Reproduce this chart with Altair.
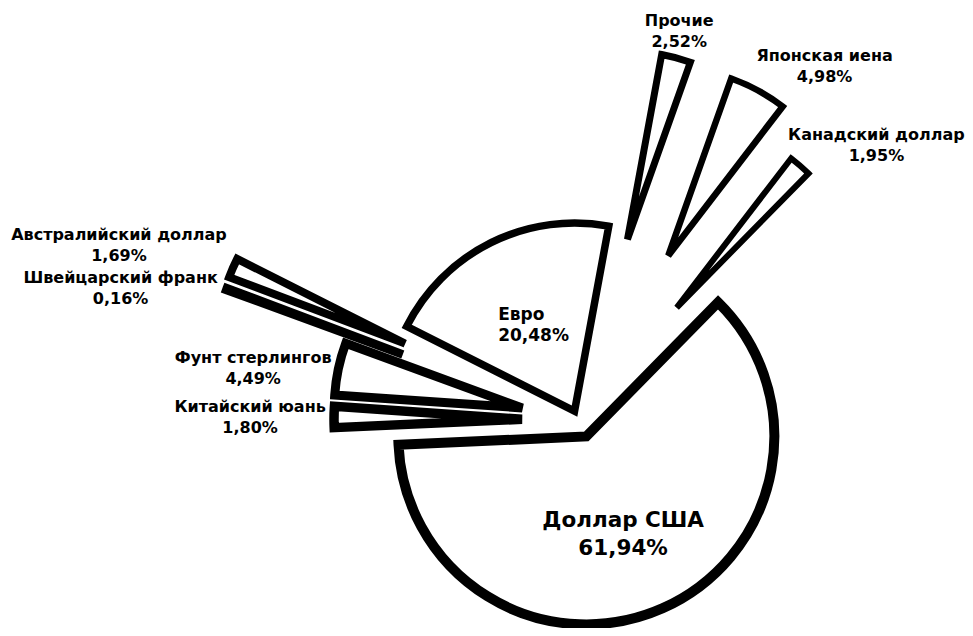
import math
import altair as alt
import pandas as pd

# ---- data ----
currencies = ["Доллар США", "Китайский юань", "Фунт стерлингов", "Швейцарский франк",
              "Австралийский доллар", "Евро", "Прочие", "Японская иена", "Канадский доллар"]
shares = [61.94, 1.80, 4.49, 0.16, 1.69, 20.48, 2.52, 4.98, 1.95]

# ---- styling (explode distance in px, outline width, label placement / nudges) ----
explode_px = [18, 57, 58, 188, 190, 10, 187, 187, 149]
stroke_px = [10, 6, 6, 6, 6, 5, 7, 7.5, 7]
label_kind = ["usd", "out", "out", "out", "out", "eur", "out", "out", "out"]
nudge_x = [0, -4, 0, -10, -2, 0, 3, -8, 0]
nudge_y = [0, 0, 0, 0, 0, 0, -4, -2, 2]

R = 188
START_DEG = 44.5
CX, CY = 571, 412
W, H = 957, 620
CHAR_W = 10.7
HALF_H = 20
GAP_X = 5
GAP_Y = 2

df = pd.DataFrame({
    "currency": currencies,
    "share": shares,
    "order": list(range(len(currencies))),
    "explode": explode_px,
    "kind": label_kind,
    "nx": nudge_x,
    "ny": nudge_y,
})

t0 = math.radians(START_DEG)

base = alt.Chart(df).transform_window(
    cum="sum(share)", frame=[None, 0], sort=[alt.SortField("order")]
).transform_joinaggregate(
    total="sum(share)"
).transform_calculate(
    t1=f"{t0} + 2*PI*(datum.cum - datum.share)/datum.total",
    t2=f"{t0} + 2*PI*datum.cum/datum.total",
    mid="(datum.t1 + datum.t2)/2",
    ux="sin(datum.mid)",
    uy="-cos(datum.mid)",
    cx=f"{CX} + datum.explode*datum.ux",
    cy=f"{CY} + datum.explode*datum.uy",
    pct="replace(format(datum.share, '.2f'), '.', ',') + '%'",
    halfw=f"max(length(datum.currency), length(datum.pct))*{CHAR_W}/2",
    sx="datum.ux > 0.383 ? 1 : (datum.ux < -0.383 ? -1 : 0)",
    sy="datum.uy > 0.383 ? 1 : (datum.uy < -0.383 ? -1 : 0)",
    px0=f"datum.cx + {R}*datum.ux + datum.sx*(datum.halfw + {GAP_X}) + datum.nx",
    px=f"min(datum.px0, {W} - 3 - datum.halfw)",
    py=f"datum.cy + {R}*datum.uy + datum.sy*({HALF_H} + {GAP_Y}) + datum.ny",
    ix=f"datum.cx + {0.52 * R}*datum.ux",
    iy=f"datum.cy + {0.52 * R}*datum.uy",
)

arcs = base.mark_arc(radius=R, fill="white", stroke="black", strokeJoin="miter", clip=True).encode(
    x=alt.X("cx:Q", scale=None),
    y=alt.Y("cy:Q", scale=None),
    theta=alt.Theta("t1:Q", scale=None, stack=False),
    theta2="t2:Q",
    strokeWidth=alt.StrokeWidth("currency:N",
                                scale=alt.Scale(domain=currencies, range=stroke_px),
                                legend=None),
)

txt_common = dict(font="DejaVu Sans", fontWeight="bold", color="black",
                  baseline="middle", clip=True)

out = base.transform_filter("datum.kind == 'out'")
out_name = out.mark_text(fontSize=16, align="center", dy=-10.5, **txt_common).encode(
    x=alt.X("px:Q", scale=None), y=alt.Y("py:Q", scale=None), text="currency:N")
out_pct = out.mark_text(fontSize=16, align="center", dy=10.5, **txt_common).encode(
    x=alt.X("px:Q", scale=None), y=alt.Y("py:Q", scale=None), text="pct:N")

usd = base.transform_filter("datum.kind == 'usd'")
usd_name = usd.mark_text(fontSize=21.5, align="center", dx=-3, dy=-5, **txt_common).encode(
    x=alt.X("ix:Q", scale=None), y=alt.Y("iy:Q", scale=None), text="currency:N")
usd_pct = usd.mark_text(fontSize=21.5, align="center", dx=-3, dy=23, **txt_common).encode(
    x=alt.X("ix:Q", scale=None), y=alt.Y("iy:Q", scale=None), text="pct:N")

eur = base.transform_filter("datum.kind == 'eur'")
eur_name = eur.mark_text(fontSize=17, align="left", dx=-33, dy=-8.5, **txt_common).encode(
    x=alt.X("ix:Q", scale=None), y=alt.Y("iy:Q", scale=None), text="currency:N")
eur_pct = eur.mark_text(fontSize=17, align="left", dx=-33, dy=12.5, **txt_common).encode(
    x=alt.X("ix:Q", scale=None), y=alt.Y("iy:Q", scale=None), text="pct:N")

chart = alt.layer(
    arcs, out_name, out_pct, usd_name, usd_pct, eur_name, eur_pct
).properties(
    width=W, height=H, padding=0, background="white",
    autosize=alt.AutoSizeParams(type="none"),
).configure_view(strokeWidth=0)

chart.save("out.html", embed_options={"renderer": "svg", "actions": False})
